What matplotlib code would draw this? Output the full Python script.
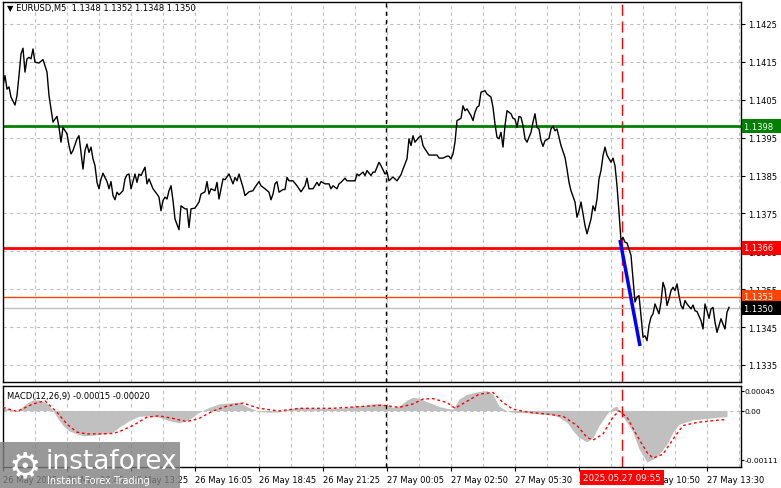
import matplotlib
matplotlib.use("Agg")
import matplotlib.pyplot as plt
import matplotlib.transforms as mtransforms
from matplotlib.patches import Rectangle
import numpy as np

plt.rcParams['font.family'] = ['DejaVu Sans']

# ---------------- data ----------------
# bar index: 5-minute bars counted from 26 May 08:05
price_bars = [
    0, 1, 2, 3, 4, 6, 7, 8, 9, 10,
    11, 12, 13, 14, 15, 16, 18, 20, 22, 23,
    25, 26, 27, 28, 29, 30, 32, 33, 34, 35,
    37, 38, 39, 40, 41, 42, 43, 44, 45, 46,
    47, 48, 49, 50, 52, 53, 54, 55, 56, 57,
    58, 60, 61, 62, 63,
    64, 66, 67, 68, 69,
    71, 72, 73, 75, 77, 78, 79, 80, 81, 82,
    83, 84, 85, 86, 88, 89, 91, 92, 93, 94,
    96, 98, 99, 101, 102, 103, 104, 106, 107, 108,
    109, 110, 111, 113, 114, 115, 116, 117, 118, 120,
    121, 123, 125, 126,
    128, 129, 131, 133, 134, 135,
    136, 137, 138, 140, 141, 142, 143, 145, 147, 149,
    151, 152, 153, 155, 157, 158, 159, 161, 163, 164,
    165, 167, 168, 169, 171, 172, 174, 176, 177, 178,
    180, 181, 182, 184, 185, 186, 188, 189, 191, 192, 193,
    195, 197, 199, 200,
    202, 203, 204, 205, 206, 208, 209, 210, 211, 213,
    215, 217, 218, 220, 222, 223, 224, 225, 226, 227,
    229, 230, 231, 232, 234, 235, 236, 237, 238, 239,
    241, 242, 244, 245, 246, 247, 248, 249, 250, 251,
    252, 254, 255, 256, 257, 258, 259,
    260, 261, 262, 264, 265, 266, 267, 268, 269, 270,
    271, 273, 274, 275, 276, 277, 278, 279, 281, 282,
    283, 284, 286, 287, 288, 289, 290, 291, 292, 294,
    295, 296, 297, 298, 299, 300, 301, 302, 304, 305,
    306, 307, 308, 309,
    310, 311, 312, 314, 315, 316, 317, 318, 319, 320,
    321, 322, 323, 324, 325, 326, 327, 328, 329, 330,
    331, 332, 333, 334, 335, 336, 337, 338, 339, 340,
    341, 342, 344, 345, 346, 347, 349, 350, 351, 352,
    353, 354, 355, 356, 357, 358, 359, 360, 361, 362, 363,
]
close_prices = [
    1.14087, 1.14114, 1.14078, 1.14084, 1.14057, 1.14036, 1.14061, 1.14114, 1.14171, 1.14186,
    1.14123, 1.14158, 1.14162, 1.14158, 1.14184, 1.14149, 1.14147, 1.14156, 1.14123, 1.14061,
    1.13991, 1.13999, 1.14006, 1.13977, 1.13938, 1.13977, 1.13960, 1.13929, 1.13907, 1.13916,
    1.13947, 1.13955, 1.13911, 1.13867, 1.13916, 1.13933, 1.13911, 1.13925, 1.13894, 1.13876,
    1.13832, 1.13815, 1.13841, 1.13856, 1.13834, 1.13815, 1.13834, 1.13797, 1.13786, 1.13806,
    1.13799, 1.13810, 1.13841, 1.13852, 1.13854,
    1.13815, 1.13854, 1.13832, 1.13854, 1.13850,
    1.13872, 1.13828, 1.13841, 1.13815, 1.13801, 1.13793, 1.13757, 1.13784, 1.13793, 1.13788,
    1.13810, 1.13823, 1.13784, 1.13735, 1.13707, 1.13770, 1.13762, 1.13762, 1.13713, 1.13762,
    1.13764, 1.13780, 1.13801, 1.13807, 1.13834, 1.13801, 1.13815, 1.13810, 1.13832, 1.13788,
    1.13815, 1.13841, 1.13839, 1.13854, 1.13841, 1.13828, 1.13845, 1.13836, 1.13854, 1.13819,
    1.13797, 1.13807, 1.13810, 1.13819,
    1.13834, 1.13823, 1.13815, 1.13806, 1.13786, 1.13801,
    1.13828, 1.13834, 1.13806, 1.13813, 1.13813, 1.13845, 1.13836, 1.13836, 1.13823, 1.13807,
    1.13823, 1.13843, 1.13815, 1.13815, 1.13832, 1.13823, 1.13834, 1.13828, 1.13828, 1.13815,
    1.13823, 1.13815, 1.13828, 1.13832, 1.13843, 1.13836, 1.13836, 1.13836, 1.13854, 1.13850,
    1.13859, 1.13850, 1.13863, 1.13850, 1.13859, 1.13859, 1.13885, 1.13876, 1.13854, 1.13859, 1.13836,
    1.13846, 1.13836, 1.13852, 1.13867,
    1.13894, 1.13947, 1.13929, 1.13955, 1.13938, 1.13951, 1.13955, 1.13929, 1.13920, 1.13904,
    1.13904, 1.13904, 1.13896, 1.13896, 1.13901, 1.13901, 1.13894, 1.13907, 1.13938, 1.13995,
    1.14001, 1.14034, 1.14021, 1.14026, 1.14008, 1.13995, 1.14017, 1.14030, 1.14034, 1.14070,
    1.14074, 1.14065, 1.14057, 1.14030, 1.13986, 1.13951, 1.13947, 1.13964, 1.13925, 1.13982,
    1.14021, 1.14013, 1.14001, 1.13999, 1.13977, 1.14006, 1.14004,
    1.13982, 1.13947, 1.13938, 1.13964, 1.13991, 1.14013, 1.13977, 1.13973, 1.13942, 1.13927,
    1.13942, 1.13948, 1.13973, 1.13980, 1.13968, 1.13973, 1.13951, 1.13929, 1.13898, 1.13867,
    1.13832, 1.13810, 1.13780, 1.13740, 1.13757, 1.13780, 1.13749, 1.13718, 1.13696, 1.13735,
    1.13770, 1.13757, 1.13788, 1.13841, 1.13863, 1.13902, 1.13925, 1.13904, 1.13885, 1.13896,
    1.13876, 1.13823, 1.13753, 1.13678,
    1.13687, 1.13674, 1.13672, 1.13639, 1.13577, 1.13516, 1.13529, 1.13533, 1.13480, 1.13423,
    1.13427, 1.13414, 1.13454, 1.13476, 1.13485, 1.13511, 1.13498, 1.13485, 1.13516, 1.13568,
    1.13551, 1.13507, 1.13524, 1.13546, 1.13555, 1.13546, 1.13564, 1.13533, 1.13507, 1.13498,
    1.13520, 1.13511, 1.13498, 1.13508, 1.13493, 1.13491, 1.13467, 1.13445, 1.13511, 1.13493,
    1.13473, 1.13498, 1.13502, 1.13463, 1.13436, 1.13454, 1.13472, 1.13458, 1.13445, 1.13489, 1.13502,
]

macd_hist_bars = [
    0, 4, 7, 12, 15, 18, 22, 25, 27, 30,
    33, 37, 40, 45, 50, 55, 58, 63, 68, 73,
    78, 83, 88, 93, 98, 103, 108, 113, 118, 123,
    128, 133, 138, 143, 148, 158, 168, 178, 185, 188,
    192, 195, 198, 202, 205, 208, 212, 215, 218, 222,
    225, 228, 232, 235, 238, 242, 245, 248, 252, 255,
    262, 268, 275, 278, 282, 285, 288, 292, 295, 298,
    302, 305, 307, 308, 312, 315, 318, 322, 325, 328,
    332, 335, 338, 345, 352, 358, 362,
]
macd_hist = [
    0.00005, 0.00003, -0.00002, 0.00017, 0.00024, 0.00024, 0.00017, 0.0, -0.00015, -0.00034,
    -0.00046, -0.00053, -0.00057, -0.00056, -0.00053, -0.00049, -0.00038, -0.00023, -0.00013, -0.00012,
    -0.00015, -0.00023, -0.00028, -0.00021, -0.00004, 0.00007, 0.00015, 0.00017, 0.00019, 0.00007,
    -0.00002, -0.00004, -0.00003, 0.00004, 0.00007, 0.00005, 0.00005, 0.0001, 0.00015, 0.00016,
    0.00012, 0.00007, 0.0001, 0.00024, 0.0003, 0.00028, 0.0002, 0.00015, 0.00009, 0.00005,
    0.00003, 0.00026, 0.00037, 0.0004, 0.00043, 0.00045, 0.00037, 0.0001, -0.00001, -0.00004,
    -0.00005, -0.00008, -0.0001, -0.00015, -0.00027, -0.00046, -0.00061, -0.00071, -0.00061, -0.00034,
    -0.00008, 0.00007, 0.0001, -0.00001, -0.00027, -0.00049, -0.00087, -0.00117, -0.0011, -0.00099,
    -0.00076, -0.00049, -0.00031, -0.00021, -0.00018, -0.00015, -0.00014,
]

signal_bars = [
    0, 7, 15, 21, 27, 32, 37, 42, 48, 55,
    58, 65, 72, 78, 85, 92, 98, 105, 112, 120,
    128, 138, 148, 165, 182, 190,
    198, 205, 210, 215, 222, 226, 232, 238, 245, 250,
    255, 263, 272, 280, 287, 292, 295, 300, 305, 308,
    312, 317, 322, 325, 330, 335, 340, 347, 355, 362,
]
signal_vals = [
    0.00007, -0.00002, 0.00015, 0.00022, -0.00004, -0.00031, -0.00049, -0.00053, -0.00053, -0.00052,
    -0.00048, -0.00034, -0.00015, -0.00012, -0.00018, -0.00025, -0.00018, -0.00001, 0.0001, 0.00017,
    0.00005, -0.00001, 0.00005, 0.00005, 0.0001, 0.00012,
    0.00007, 0.00015, 0.00026, 0.00027, 0.00018, 0.00005, 0.00021, 0.00037, 0.00041, 0.00018,
    0.00003, -0.00004, -0.00008, -0.00013, -0.00034, -0.00061, -0.00067, -0.00053, -0.00015, -0.00001,
    -0.00015, -0.00057, -0.00095, -0.00108, -0.00099, -0.00065, -0.00034, -0.00027, -0.00023, -0.0002,
]

# horizontal levels
level_green = 1.1398
level_red = 1.1366
level_orange = 1.1353
level_bid = 1.1350

# blue trend segment
trend_bars = [308.5, 318.5]
trend_prices = [1.1368, 1.1340]

day_separator_bar = 191.5
signal_bar = 309.5

xtick_bars = [0, 32, 64, 96, 128, 160, 192, 224, 256, 288, 320, 352]
xtick_labels = ["26 May 2025", "26 May 10:45", "26 May 13:25", "26 May 16:05",
                "26 May 18:45", "26 May 21:25", "27 May 00:05", "27 May 02:50",
                "27 May 05:30", "27 May 08:10", "27 May 10:50", "27 May 13:30"]
price_ticks = [1.1335, 1.1345, 1.1355, 1.1365, 1.1375, 1.1385, 1.1395, 1.1405, 1.1415, 1.1425]
macd_ticks = [-0.00111, 0.0, 0.00045]
macd_tick_labels = ["-0.00111", "0.00", "0.00045"]

title_text = "\u25BC EURUSD,M5  1.1348 1.1352 1.1348 1.1350"
macd_title = "MACD(12,26,9) -0.00015 -0.00020"
time_marker = "2025.05.27 09:55"

# ---------------- figure ----------------
W, H = 781, 489
fig = plt.figure(figsize=(W / 100, H / 100), dpi=100)
fig.patch.set_facecolor('white')


def rect(l, t, r, b):
    return [l / W, 1 - b / H, (r - l) / W, (b - t) / H]


ax = fig.add_axes(rect(3, 3, 741, 383))
ax2 = fig.add_axes(rect(3, 387, 741, 468))

GRID = '#c0c0c0'
for a in (ax, ax2):
    a.set_xlim(0, 369)
    for s in a.spines.values():
        s.set_color('black')
        s.set_linewidth(1.0)
    for xb in range(16, 369, 16):
        a.axvline(xb, color=GRID, lw=0.8, ls=(0, (3, 3)), zorder=0)
    a.yaxis.tick_right()
    a.tick_params(axis='y', direction='out', length=3, width=0.8, labelsize=6, pad=2, colors='black')

# main panel
ax.set_ylim(1.13305, 1.14308)
ax.set_yticks(price_ticks)
ax.set_yticklabels([f"{p:.4f}" for p in price_ticks])
for p in price_ticks:
    ax.axhline(p, color=GRID, lw=0.8, ls=(0, (3, 3)), zorder=0)
ax.set_xticks([])

ax.axvline(day_separator_bar, color='black', lw=1, ls=(0, (3, 3)), zorder=1)
ax.axvline(signal_bar, color='red', lw=1, ls=(0, (8, 4)), zorder=1)

ax.axhline(level_green, color='#008000', lw=2, zorder=2)
ax.axhline(level_red, color='#ff0000', lw=2, zorder=2)
ax.axhline(level_orange, color='#ff4500', lw=1, zorder=2)
ax.axhline(level_bid, color='#c0c0c0', lw=1, zorder=2)

ax.plot(price_bars, close_prices, color='black', lw=1, zorder=3)
ax.plot(trend_bars, trend_prices, color='#0000ff', lw=2.5, zorder=4, solid_capstyle='butt')

# right-side price boxes
btr = mtransforms.blended_transform_factory(fig.transFigure, ax.transData)
for val, fc in [(level_green, '#008000'), (level_red, '#ff0000'),
                (level_orange, '#ff4500'), (level_bid, '#000000')]:
    ax.text(744 / W, val, f"{val:.4f}  ", transform=btr, ha='left', va='center',
            fontsize=6, color='white', zorder=10, clip_on=False,
            bbox=dict(boxstyle='square,pad=0.3', fc=fc, ec='none'))

# MACD panel
ax2.set_ylim(-0.00128, 0.000556)
ax2.set_yticks(macd_ticks)
ax2.set_yticklabels(macd_tick_labels)
ax2.tick_params(axis='y', labelsize=5.4, pad=0.5, length=2)
ax2.axhline(0, color=GRID, lw=0.8, ls=(0, (3, 3)), zorder=0)
ax2.fill_between(macd_hist_bars, 0, macd_hist, color='#c0c0c0', lw=0, zorder=1)
ax2.plot(signal_bars, signal_vals, color='red', lw=1, ls=(0, (2, 2)), zorder=3)
ax2.axvline(day_separator_bar, color='black', lw=1, ls=(0, (3, 3)), zorder=2)
ax2.axvline(signal_bar, color='red', lw=1, ls=(0, (8, 4)), zorder=2)
ax2.set_xticks(xtick_bars)
ax2.set_xticklabels(xtick_labels, ha='left')
ax2.tick_params(axis='x', direction='out', length=3, width=0.8, labelsize=6, pad=3, colors='black')

# titles
fig.text(7 / W, 1 - 9 / H, title_text, fontsize=6, va='center', ha='left', color='black')
fig.text(7 / W, 1 - 397 / H, macd_title, fontsize=6, va='center', ha='left', color='black')

# time marker box
fig.text(622 / W, 1 - 478.5 / H, time_marker, fontsize=6.3, ha='center', va='center', color='white',
         zorder=10, bbox=dict(boxstyle='square,pad=0.35', fc='red', ec='none'))

# watermark logo
fig.patches.append(Rectangle((0, 0), 180 / W, 46 / H, transform=fig.transFigure,
                             fc='#808080', ec='none', alpha=0.8, zorder=9))
fig.text(25 / W, 1 - 467 / H, "\u2699", fontsize=26, color='white', ha='center', va='center', zorder=11)
fig.text(46 / W, 1 - 462 / H, "instaforex", fontsize=19, color='white', ha='left', va='center', zorder=11)
fig.text(47 / W, 1 - 481 / H, "Instant Forex Trading", fontsize=7, color='white', ha='left', va='center', zorder=11)

fig.savefig("out.png", dpi=100, facecolor='white')
